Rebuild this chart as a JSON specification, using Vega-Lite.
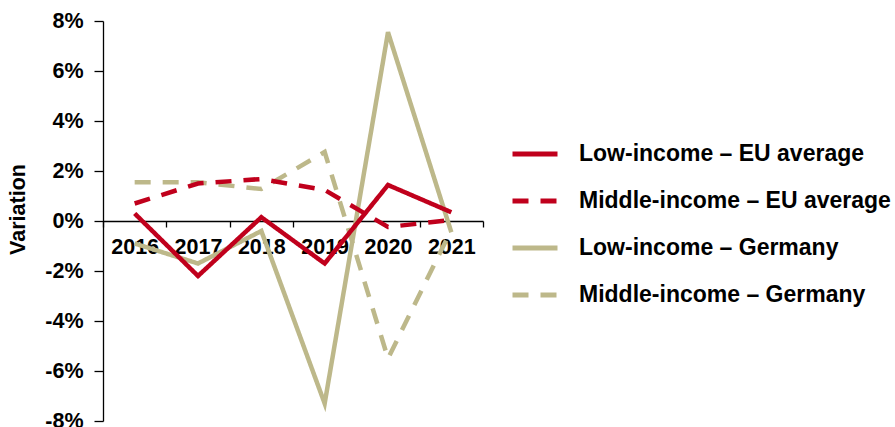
{
  "$schema": "https://vega.github.io/schema/vega-lite/v6.json",
  "width": 380,
  "height": 400,
  "autosize": {"type": "none"},
  "padding": {"left": 103, "top": 21, "right": 412, "bottom": 6},
  "background": "white",
  "config": {
    "view": {"stroke": null},
    "font": "Liberation Sans"
  },
  "data": {
    "values": [
      {"year": "2016", "series": "Low-income – Germany", "v": -0.9},
      {"year": "2017", "series": "Low-income – Germany", "v": -1.7},
      {"year": "2018", "series": "Low-income – Germany", "v": -0.4},
      {"year": "2019", "series": "Low-income – Germany", "v": -7.3},
      {"year": "2020", "series": "Low-income – Germany", "v": 7.55},
      {"year": "2021", "series": "Low-income – Germany", "v": -0.45},
      {"year": "2016", "series": "Middle-income – Germany", "v": 1.55},
      {"year": "2017", "series": "Middle-income – Germany", "v": 1.55},
      {"year": "2018", "series": "Middle-income – Germany", "v": 1.28},
      {"year": "2019", "series": "Middle-income – Germany", "v": 2.76},
      {"year": "2020", "series": "Middle-income – Germany", "v": -5.5},
      {"year": "2021", "series": "Middle-income – Germany", "v": -0.35},
      {"year": "2016", "series": "Middle-income – EU average", "v": 0.7},
      {"year": "2017", "series": "Middle-income – EU average", "v": 1.5},
      {"year": "2018", "series": "Middle-income – EU average", "v": 1.68},
      {"year": "2019", "series": "Middle-income – EU average", "v": 1.24},
      {"year": "2020", "series": "Middle-income – EU average", "v": -0.24},
      {"year": "2021", "series": "Middle-income – EU average", "v": 0.04},
      {"year": "2016", "series": "Low-income – EU average", "v": 0.3},
      {"year": "2017", "series": "Low-income – EU average", "v": -2.2},
      {"year": "2018", "series": "Low-income – EU average", "v": 0.15},
      {"year": "2019", "series": "Low-income – EU average", "v": -1.7},
      {"year": "2020", "series": "Low-income – EU average", "v": 1.44},
      {"year": "2021", "series": "Low-income – EU average", "v": 0.35}
    ]
  },
  "mark": {"type": "line", "strokeWidth": 4.5, "strokeCap": "butt"},
  "encoding": {
    "x": {
      "field": "year",
      "type": "ordinal",
      "scale": {"type": "band", "paddingInner": 0, "paddingOuter": 0},
      "axis": {
        "title": null,
        "offset": -200,
        "labelAngle": 0,
        "tickBand": "extent",
        "tickSize": 6,
        "tickColor": "black",
        "domainColor": "black",
        "domainWidth": 1.3,
        "tickWidth": 1.3,
        "labelFont": "Liberation Sans",
        "labelFontSize": 21.5,
        "labelFontWeight": "bold",
        "labelColor": "black",
        "labelPadding": 9
      }
    },
    "y": {
      "field": "v",
      "type": "quantitative",
      "scale": {"domain": [-8, 8], "nice": false, "zero": false},
      "axis": {
        "values": [-8, -6, -4, -2, 0, 2, 4, 6, 8],
        "labelExpr": "datum.value + '%'",
        "grid": false,
        "tickSize": 9,
        "tickColor": "black",
        "domainColor": "black",
        "domainWidth": 1.3,
        "tickWidth": 1.3,
        "labelFont": "Liberation Sans",
        "labelFontSize": 21.5,
        "labelFontWeight": "bold",
        "labelColor": "black",
        "labelPadding": 11,
        "labelOverlap": false,
        "title": "Variation",
        "titleFont": "Liberation Sans",
        "titleFontSize": 21.5,
        "titleFontWeight": "bold",
        "titleColor": "black",
        "titleX": -85,
        "titleY": 188,
        "titleAlign": "center",
        "titleBaseline": "middle",
        "titleAngle": -90
      }
    },
    "color": {
      "field": "series",
      "type": "nominal",
      "scale": {
        "domain": ["Low-income – EU average", "Middle-income – EU average", "Low-income – Germany", "Middle-income – Germany"],
        "range": ["#C0001C", "#C0001C", "#BDB88A", "#BDB88A"]
      },
      "legend": {
        "title": null,
        "orient": "none",
        "legendX": 407,
        "legendY": 108,
        "padding": 0,
        "symbolType": "stroke",
        "symbolSize": 2025,
        "symbolStrokeWidth": 5,
        "labelFont": "Liberation Sans",
        "labelFontSize": 23,
        "labelFontWeight": "bold",
        "labelColor": "black",
        "labelOffset": 19,
        "labelLimit": 400,
        "rowPadding": 10
      }
    },
    "strokeDash": {
      "field": "series",
      "type": "nominal",
      "scale": {
        "domain": ["Low-income – EU average", "Middle-income – EU average", "Low-income – Germany", "Middle-income – Germany"],
        "range": [[1, 0], [16, 12], [1, 0], [16, 12]]
      },
      "legend": {
        "title": null,
        "orient": "none",
        "legendX": 407,
        "legendY": 108,
        "padding": 0,
        "symbolType": "stroke",
        "symbolSize": 2025,
        "symbolStrokeWidth": 5,
        "labelFont": "Liberation Sans",
        "labelFontSize": 23,
        "labelFontWeight": "bold",
        "labelColor": "black",
        "labelOffset": 19,
        "labelLimit": 400,
        "rowPadding": 10
      }
    }
  }
}
